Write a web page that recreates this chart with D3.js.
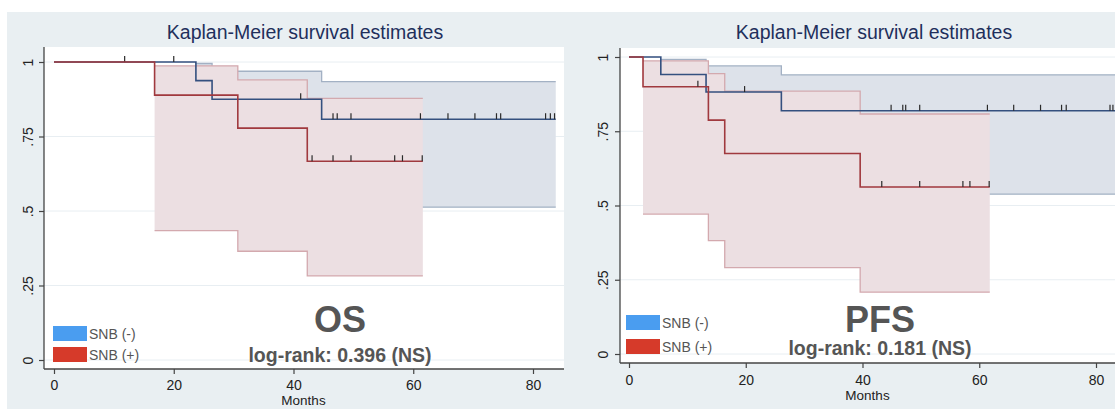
<!DOCTYPE html>
<html>
<head>
<meta charset="utf-8">
<script src="https://d3js.org/d3.v7.min.js"></script>
<style>
  body { margin: 0; background: #fff; }
  text { font-family: "Liberation Sans", Arial, sans-serif; }
</style>
</head>
<body>
<script type="text/javascript">

/* ---- data ---- */
var monthTicks = [0, 20, 40, 60, 80];
var survTicks = [0, 0.25, 0.5, 0.75, 1];
var survTickLabels = ["0", ".25", ".5", ".75", "1"];
var groups = ["SNB (-)", "SNB (+)"];

/* OS, SNB (-) */
var osNegTime  = [0, 23.7, 26.4, 44.7];
var osNegSurv  = [1, 0.9375, 0.875, 0.808];
var osNegUpper = [1, 0.995, 0.969, 0.934];
var osNegLower = [1, 0.63, 0.59, 0.513];
var osNegEnd = 83.8;
var osNegCensor = [11.8, 20.0, 41.2, 46.6, 47.3, 49.6, 61.2, 65.8, 70.3, 73.9, 74.6, 82.1, 82.9, 83.6];

/* OS, SNB (+) */
var osPosTime  = [0, 16.8, 30.7, 42.3];
var osPosSurv  = [1, 0.889, 0.778, 0.667];
var osPosUpper = [1, 0.987, 0.940, 0.878];
var osPosLower = [1, 0.434, 0.365, 0.282];
var osPosEnd = 61.6;
var osPosCensor = [43.1, 46.6, 49.6, 56.9, 58.2, 61.5];

/* PFS, SNB (-) */
var pfsNegTime  = [0, 5.45, 13.2, 26.1];
var pfsNegSurv  = [1, 0.941, 0.882, 0.819];
var pfsNegUpper = [1, 0.992, 0.970, 0.940];
var pfsNegLower = [1, 0.65, 0.61, 0.538];
var pfsNegEnd = 84;
var pfsNegCensor = [19.8, 44.9, 46.9, 47.4, 49.8, 61.4, 65.9, 70.5, 74.1, 74.9, 82.4, 82.9, 83.5];

/* PFS, SNB (+) */
var pfsPosTime  = [0, 2.4, 13.6, 16.4, 39.6];
var pfsPosSurv  = [1, 0.9, 0.7875, 0.675, 0.5625];
var pfsPosUpper = [1, 0.987, 0.944, 0.885, 0.808];
var pfsPosLower = [1, 0.471, 0.382, 0.291, 0.208];
var pfsPosEnd = 61.8;
var pfsPosCensor = [11.8, 43.3, 49.8, 57.2, 58.4, 61.7];

var svg = d3.select("body")
  .append("svg")
    .attr("width", 1115)
    .attr("height", 409);

/* build one group's step series from its arrays */
function series(time, surv, upper, lower, end, censor) {
  var pts = time.map(function(t, i) {
    return {t: t, s: surv[i], hi: upper[i], lo: lower[i]};
  });
  pts.push({t: end, s: surv[surv.length - 1], hi: upper[upper.length - 1], lo: lower[lower.length - 1]});
  return {pts: pts, censor: censor, last: surv[surv.length - 1], time: time, surv: surv};
}

function survAt(sr, t) {
  var v = 1;
  sr.time.forEach(function(tt, i) { if (tt <= t) v = sr.surv[i]; });
  return v;
}

function panel(cfg) {
  var g = svg.append("g");

  /* panel background and plot region */
  g.append("rect")
    .attr("x", cfg.bg[0]).attr("y", 12)
    .attr("width", cfg.bg[1] - cfg.bg[0]).attr("height", 409 - 12)
    .style("fill", "#e9eff2");
  g.append("rect")
    .attr("x", cfg.plot[0]).attr("y", cfg.plot[2])
    .attr("width", cfg.plot[1] - cfg.plot[0]).attr("height", cfg.plot[3] - cfg.plot[2])
    .style("fill", "#ffffff");

  var x = d3.scaleLinear().domain([0, 80]).range(cfg.xr);
  var y = d3.scaleLinear().domain([0, 1]).range(cfg.yr);

  var clipId = "clip" + cfg.id;
  g.append("clipPath").attr("id", clipId)
    .append("rect")
      .attr("x", cfg.plot[0]).attr("y", cfg.plot[2])
      .attr("width", cfg.plot[1] - cfg.plot[0]).attr("height", cfg.plot[3] - cfg.plot[2]);

  var inner = g.append("g").attr("clip-path", "url(#" + clipId + ")");

  /* faint gridlines */
  inner.selectAll(".grid").data(survTicks).enter()
    .append("line")
      .attr("x1", cfg.plot[0]).attr("x2", cfg.plot[1])
      .attr("y1", function(d) { return y(d); })
      .attr("y2", function(d) { return y(d); })
      .style("stroke", "#e8eef2")
      .style("stroke-width", 1);

  var band = d3.area().curve(d3.curveStepAfter)
    .x(function(d) { return x(d.t); })
    .y0(function(d) { return y(d.lo); })
    .y1(function(d) { return y(d.hi); });
  var hiLine = d3.line().curve(d3.curveStepAfter)
    .x(function(d) { return x(d.t); })
    .y(function(d) { return y(d.hi); });
  var loLine = d3.line().curve(d3.curveStepAfter)
    .x(function(d) { return x(d.t); })
    .y(function(d) { return y(d.lo); });
  var km = d3.line().curve(d3.curveStepAfter)
    .x(function(d) { return x(d.t); })
    .y(function(d) { return y(d.s); });

  var bandFill = ["#dde2ea", "#ecdfe2"];
  var bandEdge = ["#a3b1c4", "#d3a9ae"];
  var lineCol = ["#34507f", "#a0393e"];

  /* confidence bands, SNB(-) first then SNB(+) over it */
  cfg.series.forEach(function(sr, i) {
    var p = sr.pts.slice(1);
    inner.append("path").attr("d", band(p))
      .style("fill", bandFill[i]).style("stroke", "none");
    inner.append("path").attr("d", hiLine(p))
      .style("fill", "none").style("stroke", bandEdge[i]).style("stroke-width", 1.3);
    inner.append("path").attr("d", loLine(p))
      .style("fill", "none").style("stroke", bandEdge[i]).style("stroke-width", 1.3);
  });

  /* survival curves with censor ticks */
  cfg.series.forEach(function(sr, i) {
    inner.append("path").attr("d", km(sr.pts))
      .style("fill", "none").style("stroke", lineCol[i]).style("stroke-width", 1.6);
    inner.selectAll(".cens" + i).data(sr.censor).enter()
      .append("line")
        .attr("x1", function(d) { return x(d); })
        .attr("x2", function(d) { return x(d); })
        .attr("y1", function(d) { return y(survAt(sr, d)); })
        .attr("y2", function(d) { return y(survAt(sr, d)) - 6; })
        .style("stroke", "#2a2a2a")
        .style("stroke-width", 1.2);
  });

  /* axes */
  var xAxis = g.append("g")
    .attr("transform", "translate(0," + cfg.plot[3] + ")")
    .call(d3.axisBottom(x).tickValues(monthTicks).tickSize(5).tickFormat(d3.format("d")));
  xAxis.select(".domain").remove();
  xAxis.selectAll("line").style("stroke", "#444").style("stroke-width", 1.2);
  xAxis.selectAll("text")
    .attr("y", 0).attr("dy", 0)
    .attr("transform", "translate(0," + cfg.xLabelY + ")")
    .style("font-size", "14px").style("fill", "#222")
    .style("font-family", "'Liberation Sans', Arial, sans-serif");

  var yAxis = g.append("g")
    .attr("transform", "translate(" + cfg.plot[0] + ",0)")
    .call(d3.axisLeft(y).tickValues(survTicks).tickSize(5)
      .tickFormat(function(d, i) { return survTickLabels[i]; }));
  yAxis.select(".domain").remove();
  yAxis.selectAll("line").style("stroke", "#444").style("stroke-width", 1.2);
  yAxis.selectAll("text")
    .attr("x", 0).attr("dy", 0)
    .attr("transform", "translate(" + cfg.yLabelX + ",0)rotate(-90)")
    .style("text-anchor", "middle")
    .style("font-size", "14px").style("fill", "#222")
    .style("font-family", "'Liberation Sans', Arial, sans-serif");

  g.append("line")
    .attr("x1", cfg.plot[0]).attr("x2", cfg.plot[1])
    .attr("y1", cfg.plot[3]).attr("y2", cfg.plot[3])
    .style("stroke", "#444").style("stroke-width", 1.3);
  g.append("line")
    .attr("x1", cfg.plot[0]).attr("x2", cfg.plot[0])
    .attr("y1", cfg.plot[2]).attr("y2", cfg.plot[3])
    .style("stroke", "#444").style("stroke-width", 1.3);

  /* texts */
  g.append("text")
    .attr("x", cfg.titleX).attr("y", 39)
    .style("text-anchor", "middle")
    .style("font-size", "19.5px").style("fill", "#1f2f5c")
    .text("Kaplan-Meier survival estimates");
  g.append("text")
    .attr("x", (cfg.xr[0] + cfg.xr[1]) / 2 + cfg.monthsDx).attr("y", cfg.monthsY)
    .style("text-anchor", "middle")
    .style("font-size", "13.5px").style("fill", "#222")
    .text("Months");
  g.append("text")
    .attr("x", cfg.bigX).attr("y", 332)
    .style("text-anchor", "middle")
    .style("font-size", "36px").style("font-weight", "bold").style("fill", "#555")
    .text(cfg.big);
  g.append("text")
    .attr("x", cfg.bigX).attr("y", cfg.rankY)
    .style("text-anchor", "middle")
    .style("font-size", "19.5px").style("font-weight", "bold").style("fill", "#555")
    .text(cfg.rank);

  /* legend */
  var swatch = ["#4a9df0", "#d63a2a"];
  groups.forEach(function(name, i) {
    var ly = cfg.legY[i];
    g.append("rect")
      .attr("x", cfg.legX).attr("y", ly)
      .attr("width", 34).attr("height", 15)
      .style("fill", swatch[i]);
    g.append("text")
      .attr("x", cfg.legX + 36).attr("y", ly + 12.5)
      .style("font-size", "14px").style("fill", "#555")
      .text(name);
  });
}

panel({
  id: "os", bg: [7, 564], plot: [44, 564, 47, 369],
  xr: [54, 533], yr: [360, 62],
  xLabelY: 21, yLabelX: -11, monthsY: 405, monthsDx: 10,
  titleX: 305, bigX: 340, big: "OS", rankY: 362, rank: "log-rank: 0.396 (NS)",
  legX: 53, legY: [326, 347],
  series: [
    series(osNegTime, osNegSurv, osNegUpper, osNegLower, osNegEnd, osNegCensor),
    series(osPosTime, osPosSurv, osPosUpper, osPosLower, osPosEnd, osPosCensor)
  ]
});

panel({
  id: "pfs", bg: [564, 1115], plot: [620, 1115, 48, 363],
  xr: [629, 1096], yr: [354, 57],
  xLabelY: 22, yLabelX: -12, monthsY: 400, monthsDx: 5,
  titleX: 874, bigX: 880, big: "PFS", rankY: 355, rank: "log-rank: 0.181 (NS)",
  legX: 626, legY: [315, 339],
  series: [
    series(pfsNegTime, pfsNegSurv, pfsNegUpper, pfsNegLower, pfsNegEnd, pfsNegCensor),
    series(pfsPosTime, pfsPosSurv, pfsPosUpper, pfsPosLower, pfsPosEnd, pfsPosCensor)
  ]
});

</script>
</body>
</html>
